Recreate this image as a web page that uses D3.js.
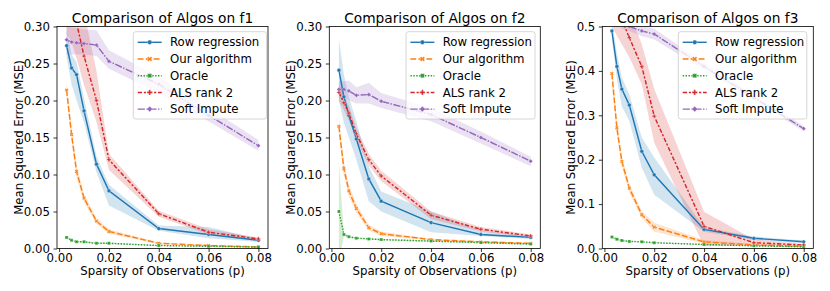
<!DOCTYPE html>
<html><head><meta charset="utf-8">
<script src="https://cdn.jsdelivr.net/npm/d3@7"></script>
<style>body{margin:0;background:#fff} text{font-family:"DejaVu Sans","Verdana",sans-serif;fill:#000}</style>
</head><body><svg id="c" width="830" height="291"></svg>
<script>
// ---------- data ----------
const sparsity = [0.003, 0.005, 0.007, 0.01, 0.015, 0.02, 0.04, 0.06, 0.08];
const seriesNames = ["Row regression", "Our algorithm", "Oracle", "ALS rank 2", "Soft Impute"];
const panelTitles = ["Comparison of Algos on f1", "Comparison of Algos on f2", "Comparison of Algos on f3"];
const xTicks = [0.00, 0.02, 0.04, 0.06, 0.08];
const yTicksF12 = [0.00, 0.05, 0.10, 0.15, 0.20, 0.25, 0.30];
const yTicksF3 = [0.0, 0.1, 0.2, 0.3, 0.4, 0.5];
const yMax = [0.30, 0.30, 0.50];

// f1
const f1RowMean = [0.274, 0.244, 0.235, 0.186, 0.114, 0.078, 0.027, 0.019, 0.011];
const f1RowLo   = [0.258, 0.222, 0.200, 0.170, 0.103, 0.058, 0.024, 0.014, 0.009];
const f1RowHi   = [0.295, 0.262, 0.252, 0.203, 0.125, 0.086, 0.031, 0.029, 0.013];
const f1OurMean = [0.214, 0.154, 0.104, 0.068, 0.037, 0.023, 0.007, 0.004, 0.002];
const f1OurLo   = [0.204, 0.145, 0.096, 0.062, 0.033, 0.020, 0.006, 0.003, 0.0015];
const f1OurHi   = [0.224, 0.163, 0.112, 0.074, 0.041, 0.026, 0.008, 0.005, 0.0025];
const f1OraMean = [0.015, 0.011, 0.009, 0.009, 0.007, 0.007, 0.004, 0.003, 0.002];
const f1OraLo   = [0.013, 0.010, 0.008, 0.008, 0.006, 0.006, 0.0035, 0.0025, 0.0015];
const f1OraHi   = [0.017, 0.012, 0.010, 0.010, 0.008, 0.008, 0.0045, 0.0035, 0.0025];
const f1AlsMean = [0.350, 0.330, 0.305, 0.260, 0.200, 0.120, 0.047, 0.022, 0.013];
const f1AlsLo   = [0.290, 0.279, 0.257, 0.221, 0.171, 0.106, 0.043, 0.019, 0.011];
const f1AlsHi   = [0.420, 0.400, 0.370, 0.320, 0.240, 0.128, 0.051, 0.026, 0.015];
const f1SoftMean = [0.282, 0.279, 0.278, 0.277, 0.275, 0.253, 0.222, 0.180, 0.139];
const f1SoftLo   = [0.262, 0.262, 0.262, 0.262, 0.260, 0.243, 0.210, 0.172, 0.132];
const f1SoftHi   = [0.300, 0.299, 0.298, 0.296, 0.295, 0.268, 0.232, 0.190, 0.147];

// f2
const f2RowMean = [0.241, 0.205, 0.180, 0.148, 0.094, 0.064, 0.035, 0.019, 0.015];
const f2RowLo   = [0.200, 0.170, 0.150, 0.120, 0.064, 0.050, 0.022, 0.017, 0.013];
const f2RowHi   = [0.283, 0.235, 0.205, 0.172, 0.111, 0.077, 0.050, 0.024, 0.017];
const f2OurMean = [0.165, 0.108, 0.078, 0.054, 0.028, 0.020, 0.012, 0.009, 0.007];
const f2OurLo   = [0.153, 0.099, 0.071, 0.048, 0.024, 0.017, 0.011, 0.008, 0.006];
const f2OurHi   = [0.177, 0.117, 0.086, 0.060, 0.032, 0.023, 0.013, 0.010, 0.008];
const f2OraMean = [0.050, 0.019, 0.016, 0.014, 0.013, 0.012, 0.010, 0.008, 0.006];
const f2OraLo   = [-0.020, 0.017, 0.015, 0.013, 0.012, 0.011, 0.009, 0.007, 0.005];
const f2OraHi   = [0.117, 0.021, 0.017, 0.015, 0.014, 0.013, 0.011, 0.009, 0.007];
const f2AlsMean = [0.211, 0.197, 0.183, 0.155, 0.120, 0.098, 0.045, 0.026, 0.017];
const f2AlsLo   = [0.199, 0.187, 0.173, 0.147, 0.112, 0.091, 0.040, 0.023, 0.015];
const f2AlsHi   = [0.223, 0.207, 0.193, 0.163, 0.128, 0.105, 0.050, 0.029, 0.019];
const f2SoftMean = [0.215, 0.215, 0.213, 0.207, 0.208, 0.199, 0.181, 0.150, 0.118];
const f2SoftLo   = [0.203, 0.203, 0.200, 0.196, 0.196, 0.190, 0.172, 0.142, 0.111];
const f2SoftHi   = [0.226, 0.226, 0.227, 0.218, 0.224, 0.210, 0.190, 0.158, 0.124];

// f3
const f3RowMean = [0.490, 0.410, 0.359, 0.323, 0.219, 0.166, 0.043, 0.023, 0.015];
const f3RowLo   = [0.470, 0.383, 0.320, 0.287, 0.182, 0.121, 0.038, 0.019, 0.012];
const f3RowHi   = [0.510, 0.440, 0.385, 0.347, 0.250, 0.205, 0.048, 0.027, 0.018];
const f3OurMean = [0.394, 0.272, 0.196, 0.136, 0.076, 0.048, 0.015, 0.008, 0.005];
const f3OurLo   = [0.369, 0.257, 0.184, 0.126, 0.068, 0.038, 0.011, 0.006, 0.004];
const f3OurHi   = [0.419, 0.287, 0.208, 0.146, 0.084, 0.058, 0.019, 0.010, 0.006];
const f3OraMean = [0.026, 0.021, 0.018, 0.016, 0.015, 0.013, 0.009, 0.006, 0.004];
const f3OraLo   = [0.023, 0.019, 0.016, 0.015, 0.014, 0.012, 0.008, 0.005, 0.003];
const f3OraHi   = [0.029, 0.023, 0.020, 0.017, 0.016, 0.014, 0.010, 0.007, 0.005];
const f3AlsMean = [0.570, 0.540, 0.515, 0.475, 0.410, 0.298, 0.050, 0.013, 0.008];
const f3AlsLo   = [0.500, 0.480, 0.460, 0.430, 0.370, 0.238, 0.005, 0.008, 0.006];
const f3AlsHi   = [0.620, 0.590, 0.560, 0.530, 0.460, 0.359, 0.083, 0.020, 0.010];
const f3SoftMean = [0.530, 0.520, 0.505, 0.500, 0.490, 0.483, 0.410, 0.340, 0.270];
const f3SoftLo   = [0.520, 0.510, 0.495, 0.490, 0.478, 0.471, 0.402, 0.334, 0.264];
const f3SoftHi   = [0.540, 0.530, 0.515, 0.510, 0.502, 0.495, 0.418, 0.346, 0.276];

// ---------- build tables ----------
const panelsData = [
  [[f1RowMean,f1RowLo,f1RowHi],[f1OurMean,f1OurLo,f1OurHi],[f1OraMean,f1OraLo,f1OraHi],[f1AlsMean,f1AlsLo,f1AlsHi],[f1SoftMean,f1SoftLo,f1SoftHi]],
  [[f2RowMean,f2RowLo,f2RowHi],[f2OurMean,f2OurLo,f2OurHi],[f2OraMean,f2OraLo,f2OraHi],[f2AlsMean,f2AlsLo,f2AlsHi],[f2SoftMean,f2SoftLo,f2SoftHi]],
  [[f3RowMean,f3RowLo,f3RowHi],[f3OurMean,f3OurLo,f3OurHi],[f3OraMean,f3OraLo,f3OraHi],[f3AlsMean,f3AlsLo,f3AlsHi],[f3SoftMean,f3SoftLo,f3SoftHi]]
];

// ---------- styles ----------
const colors = ["#1f77b4", "#ff7f0e", "#2ca02c", "#d62728", "#9467bd"];
const dashes = [null, "5.8,2.2", "1.45,1.45", "4.35,1.8,2.2,1.8", "7.25,1.45,1.45,1.45"];
const symbols = [d3.symbolCircle, d3.symbolCross, d3.symbolSquare, d3.symbolCross, d3.symbolSquare];
const symRot = [0, 45, 0, 0, 45];

const svg = d3.select("#c");

// font calibration: keep text widths as in reference whatever sans font is used
const probe = svg.append("text").attr("font-size", 100).text("Row regression");
const probeW = probe.node().getComputedTextLength();
probe.remove();
const k = Math.min(1.2, Math.max(0.9, 770 / probeW));
const fsSmall = 11.6 * k, fsTitle = 13.6 * k;

const axLeft = [57, 329.3, 602.3];
const axW = 211;
const axTop = 26.5, axBottom = 248.5;
const legLeft = [133.3, 406, 678.3];
const legW = [133.3, 129, 128.5];

panelsData.forEach((series, pi) => {
  const x = d3.scaleLinear().domain([-0.00085, 0.08385]).range([axLeft[pi], axLeft[pi] + axW]);
  const y = d3.scaleLinear().domain([0, yMax[pi]]).range([axBottom, axTop]);
  const g = svg.append("g");
  const clipId = "clip" + pi;
  g.append("clipPath").attr("id", clipId).append("rect")
    .attr("x", axLeft[pi]).attr("y", axTop).attr("width", axW).attr("height", axBottom - axTop);
  const plot = g.append("g").attr("clip-path", `url(#${clipId})`);

  const area = d3.area().x((d, i) => x(sparsity[i])).y0(d => y(d[0])).y1(d => y(d[1]));
  const line = d3.line().x((d, i) => x(sparsity[i])).y(d => y(d));

  series.forEach((s, si) => {
    const pts = s[0].map((m, i) => [s[1][i], s[2][i]]);
    plot.append("path").attr("d", area(pts)).attr("fill", colors[si]).attr("fill-opacity", 0.2).attr("stroke", "none");
  });
  series.forEach((s, si) => {
    plot.append("path").attr("d", line(s[0])).attr("fill", "none").attr("stroke", colors[si])
      .attr("stroke-width", 1.45).attr("stroke-dasharray", dashes[si]);
    plot.selectAll(null).data(s[0]).enter().append("path")
      .attr("d", d3.symbol().type(symbols[si]).size(si === 0 ? 11 : 9))
      .attr("transform", (d, i) => `translate(${x(sparsity[i])},${y(d)}) rotate(${symRot[si]})`)
      .attr("fill", colors[si]).attr("stroke", "#fff").attr("stroke-width", 0.3);
  });

  // axes
  const yTicks = pi < 2 ? yTicksF12 : yTicksF3;
  const yFmt = pi < 2 ? d3.format(".2f") : d3.format(".1f");
  const xAxis = g.append("g").attr("transform", `translate(0,${axBottom})`)
    .call(d3.axisBottom(x).tickValues(xTicks).tickFormat(d3.format(".2f")).tickSize(3.5).tickPadding(2));
  const yAxis = g.append("g").attr("transform", `translate(${axLeft[pi]},0)`)
    .call(d3.axisLeft(y).tickValues(yTicks).tickFormat(yFmt).tickSize(3.5).tickPadding(3.5));
  [xAxis, yAxis].forEach(a => {
    a.attr("font-family", null).attr("font-size", null);
    a.select(".domain").remove();
    a.selectAll("line").attr("stroke", "#000").attr("stroke-width", 0.8);
    a.selectAll("text").attr("font-size", fsSmall).attr("fill", "#000");
  });
  g.append("rect").attr("x", axLeft[pi]).attr("y", axTop).attr("width", axW).attr("height", axBottom - axTop)
    .attr("fill", "none").attr("stroke", "#000").attr("stroke-width", 0.8);

  // title & labels
  g.append("text").attr("x", axLeft[pi] + axW / 2).attr("y", 22.7).attr("text-anchor", "middle")
    .attr("font-size", fsTitle).text(panelTitles[pi]);
  g.append("text").attr("x", axLeft[pi] + axW / 2).attr("y", 275).attr("text-anchor", "middle")
    .attr("font-size", fsSmall).text("Sparsity of Observations (p)");
  const tb = yAxis.node().getBBox();
  const lx = axLeft[pi] + tb.x - 1.3;
  g.append("text").attr("transform", `translate(${lx},${(axTop + axBottom) / 2}) rotate(-90)`)
    .attr("text-anchor", "middle").attr("font-size", fsSmall).text("Mean Squared Error (MSE)");

  // legend
  const lg = g.append("g").attr("transform", `translate(${legLeft[pi]},31.7)`);
  lg.append("rect").attr("width", legW[pi]).attr("height", 87.3).attr("rx", 2.5)
    .attr("fill", "#fff").attr("fill-opacity", 0.8).attr("stroke", "#ccc").attr("stroke-width", 0.8);
  seriesNames.forEach((name, si) => {
    const ry = 10.6 + si * 16.7;
    lg.append("line").attr("x1", 4.4).attr("x2", 28.4).attr("y1", ry).attr("y2", ry)
      .attr("stroke", colors[si]).attr("stroke-width", 1.45).attr("stroke-dasharray", dashes[si]);
    lg.append("path").attr("d", d3.symbol().type(symbols[si]).size(16))
      .attr("transform", `translate(16.4,${ry}) rotate(${symRot[si]})`)
      .attr("fill", colors[si]).attr("stroke", "#fff").attr("stroke-width", 0.3);
    lg.append("text").attr("x", 36.7).attr("y", ry + 4.2).attr("font-size", fsSmall).text(name);
  });
});
</script></body></html>
